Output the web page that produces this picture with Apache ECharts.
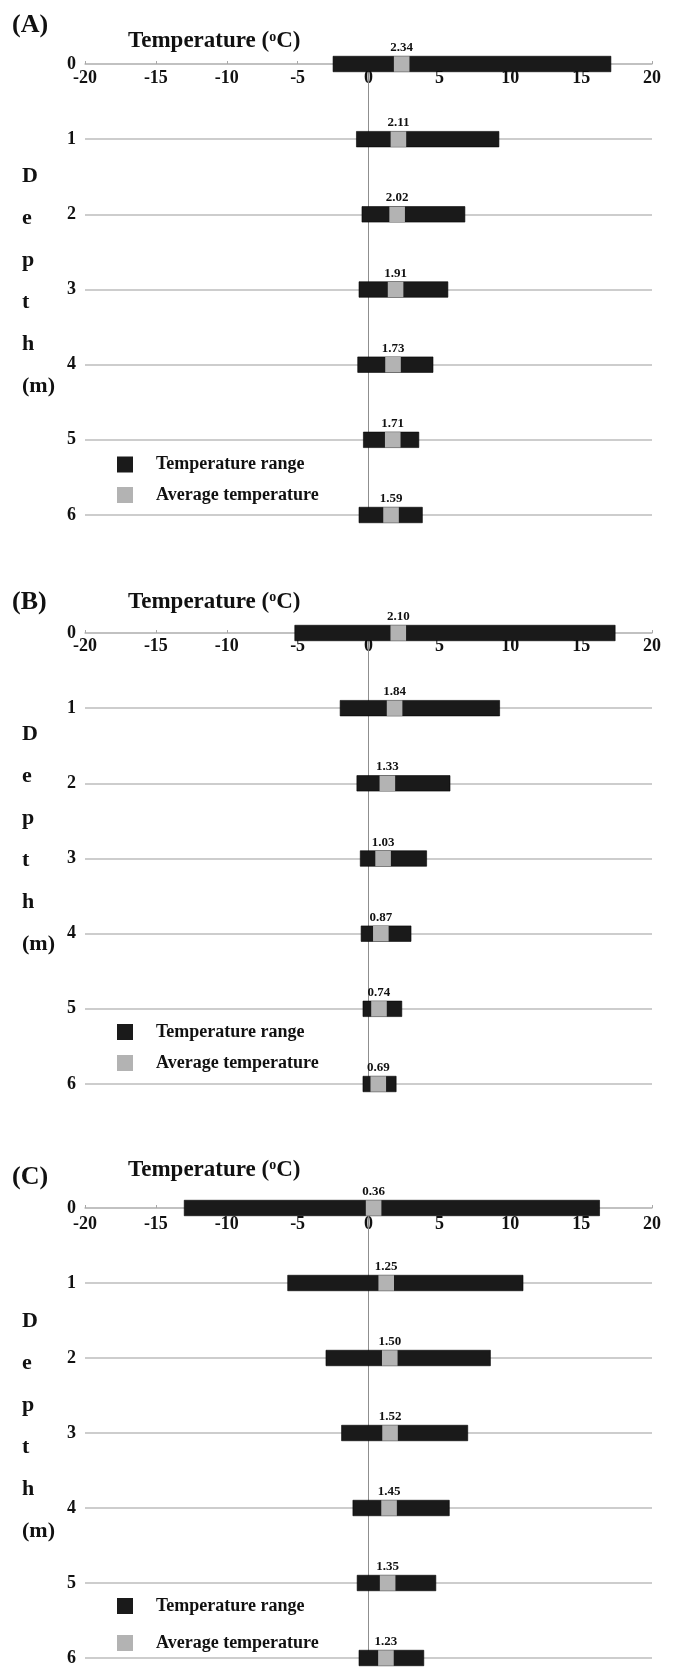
<!DOCTYPE html>
<html>
<head>
<meta charset="utf-8">
<script src="https://cdn.jsdelivr.net/npm/echarts@6/dist/echarts.min.js"></script>
<style>
html,body{margin:0;padding:0;background:#ffffff;}
#chart{width:673px;height:1667px;}
</style>
</head>
<body>
<div id="chart"></div>
<script>
// ---------------- DATA ----------------
const depths = [0, 1, 2, 3, 4, 5, 6];
const tempAxis = { min: -20, max: 20, interval: 5 };
const panelTags = ['(A)', '(B)', '(C)'];
const axisTitleParts = ['Temperature (', 'o', 'C)'];
const depthLetters = ['D', 'e', 'p', 't', 'h', '(m)'];
const legendNames = ['Temperature range', 'Average temperature'];

const minA = [-2.5, -0.85, -0.46, -0.67, -0.76, -0.36, -0.67];
const maxA = [17.1, 9.2, 6.8, 5.6, 4.55, 3.55, 3.8];
const avgA = [2.34, 2.11, 2.02, 1.91, 1.73, 1.71, 1.59];

const minB = [-5.2, -2.0, -0.82, -0.58, -0.52, -0.39, -0.39];
const maxB = [17.4, 9.25, 5.75, 4.1, 3.0, 2.35, 1.95];
const avgB = [2.10, 1.84, 1.33, 1.03, 0.87, 0.74, 0.69];

const minC = [-13.0, -5.7, -3.0, -1.9, -1.1, -0.8, -0.67];
const maxC = [16.3, 10.9, 8.6, 7.0, 5.7, 4.75, 3.9];
const avgC = [0.36, 1.25, 1.50, 1.52, 1.45, 1.35, 1.23];

const panelData = [
  { mins: minA, maxs: maxA, avgs: avgA },
  { mins: minB, maxs: maxB, avgs: avgB },
  { mins: minC, maxs: maxC, avgs: avgC }
];

// ---------------- LAYOUT / STYLE ----------------
const FONT = '"Liberation Serif","Times New Roman",serif';
const INK = '#111111';
const BLACK = '#1a1a1a';
const GREY = '#b3b3b3';
const GRIDLINE = '#bdbdbd';

const layout = [
  { top: 64,   height: 451, tagY: 25,   titleY: 41.5, depthTop: 155,  legendTop: 455.5, legendGap: 12.5, tickMargin: 5 },
  { top: 633,  height: 451, tagY: 602,  titleY: 602,  depthTop: 713,  legendTop: 1023,  legendGap: 13,   tickMargin: 4 },
  { top: 1208, height: 452, tagY: 1177, titleY: 1170, depthTop: 1300, legendTop: 1597,  legendGap: 19,   tickMargin: 7 }
];

const grids = [], xAxes = [], yAxes = [], series = [], legends = [], graphics = [];

layout.forEach(function (L, i) {
  const d = panelData[i];
  grids.push({ left: 85, right: 21, top: L.top, height: L.height, containLabel: false });

  xAxes.push({
    gridIndex: i, type: 'value', position: 'top',
    min: tempAxis.min, max: tempAxis.max, interval: tempAxis.interval,
    axisLine: { show: true, onZero: false, lineStyle: { color: GRIDLINE, width: 1.5 } },
    axisTick: { show: true, length: 3, lineStyle: { color: '#a8a8a8', width: 1 } },
    axisLabel: { inside: true, margin: L.tickMargin, fontSize: 18, fontWeight: 'bold', fontFamily: FONT, color: INK, showMinLabel: true, showMaxLabel: true },
    splitLine: { show: false }
  });

  yAxes.push({
    gridIndex: i, type: 'value', inverse: true,
    min: depths[0], max: depths[depths.length - 1], interval: 1,
    axisLine: { show: false }, axisTick: { show: false },
    axisLabel: { margin: 9, fontSize: 18, fontWeight: 'bold', fontFamily: FONT, color: INK },
    splitLine: { show: true, lineStyle: { color: GRIDLINE, width: 1.5 } }
  });

  // zero reference line (vertical)
  series.push({
    type: 'line', xAxisIndex: i, yAxisIndex: i, z: 1, silent: true,
    data: [[0, depths[0]], [0, depths[depths.length - 1]]],
    symbol: 'none', lineStyle: { color: '#8f8f8f', width: 1 }
  });

  // temperature range bars
  series.push({
    type: 'custom', name: legendNames[0], xAxisIndex: i, yAxisIndex: i, z: 3,
    data: depths.map(function (dep, k) { return [d.mins[k], d.maxs[k], dep]; }),
    encode: { x: [0, 1], y: 2 },
    itemStyle: { color: BLACK },
    renderItem: function (params, api) {
      const lo = api.coord([api.value(0), api.value(2)]);
      const hi = api.coord([api.value(1), api.value(2)]);
      const h = 15.5;
      return {
        type: 'rect',
        shape: { x: lo[0], y: lo[1] - h / 2, width: hi[0] - lo[0], height: h },
        style: { fill: BLACK, stroke: '#000', lineWidth: 0.6 }
      };
    }
  });

  // average temperature markers
  series.push({
    type: 'scatter', name: legendNames[1], xAxisIndex: i, yAxisIndex: i, z: 4,
    clip: false,
    data: depths.map(function (dep, k) { return [d.avgs[k], dep]; }),
    symbol: 'rect', symbolSize: [15.6, 15.5],
    itemStyle: { color: GREY, opacity: 1 },
    emphasis: { disabled: true },
    label: {
      show: true, position: 'top', distance: 2,
      formatter: function (p) { return p.value[0].toFixed(2); },
      fontSize: 13, fontWeight: 'bold', fontFamily: FONT, color: INK
    }
  });

  legends.push({
    data: [{ name: legendNames[0], icon: 'rect' }, { name: legendNames[1], icon: 'rect' }],
    orient: 'vertical', left: 117, top: L.legendTop, padding: 0,
    itemWidth: 16, itemHeight: 16, itemGap: L.legendGap, selectedMode: false,
    textStyle: { fontSize: 18, fontWeight: 'bold', fontFamily: FONT, color: INK, padding: [0, 0, 0, 18] }
  });

  graphics.push({
    type: 'text', x: 12, y: L.tagY, silent: true,
    style: { text: panelTags[i], fontSize: 26, fontWeight: 'bold', fontFamily: FONT, fill: INK, align: 'left', verticalAlign: 'middle' }
  });
  graphics.push({
    type: 'text', x: 128, y: L.titleY, silent: true,
    style: {
      text: '{a|' + axisTitleParts[0] + '}{s|' + axisTitleParts[1] + '}{a|' + axisTitleParts[2] + '}',
      align: 'left', verticalAlign: 'middle',
      rich: {
        a: { fontSize: 23, fontWeight: 'bold', fontFamily: FONT, fill: INK, color: INK },
        s: { fontSize: 14, fontWeight: 'bold', fontFamily: FONT, fill: INK, color: INK, verticalAlign: 'top', lineHeight: 12 }
      }
    }
  });
  graphics.push({
    type: 'text', x: 22, y: L.depthTop, silent: true,
    style: { text: depthLetters.join('\n'), fontSize: 22, fontWeight: 'bold', fontFamily: FONT, fill: INK, lineHeight: 42, align: 'left', verticalAlign: 'top' }
  });
});

const chart = echarts.init(document.getElementById('chart'), null, { renderer: 'canvas' });
chart.setOption({
  backgroundColor: '#ffffff',
  animation: false,
  grid: grids,
  xAxis: xAxes,
  yAxis: yAxes,
  legend: legends,
  series: series,
  graphic: graphics
});
</script>
</body>
</html>
